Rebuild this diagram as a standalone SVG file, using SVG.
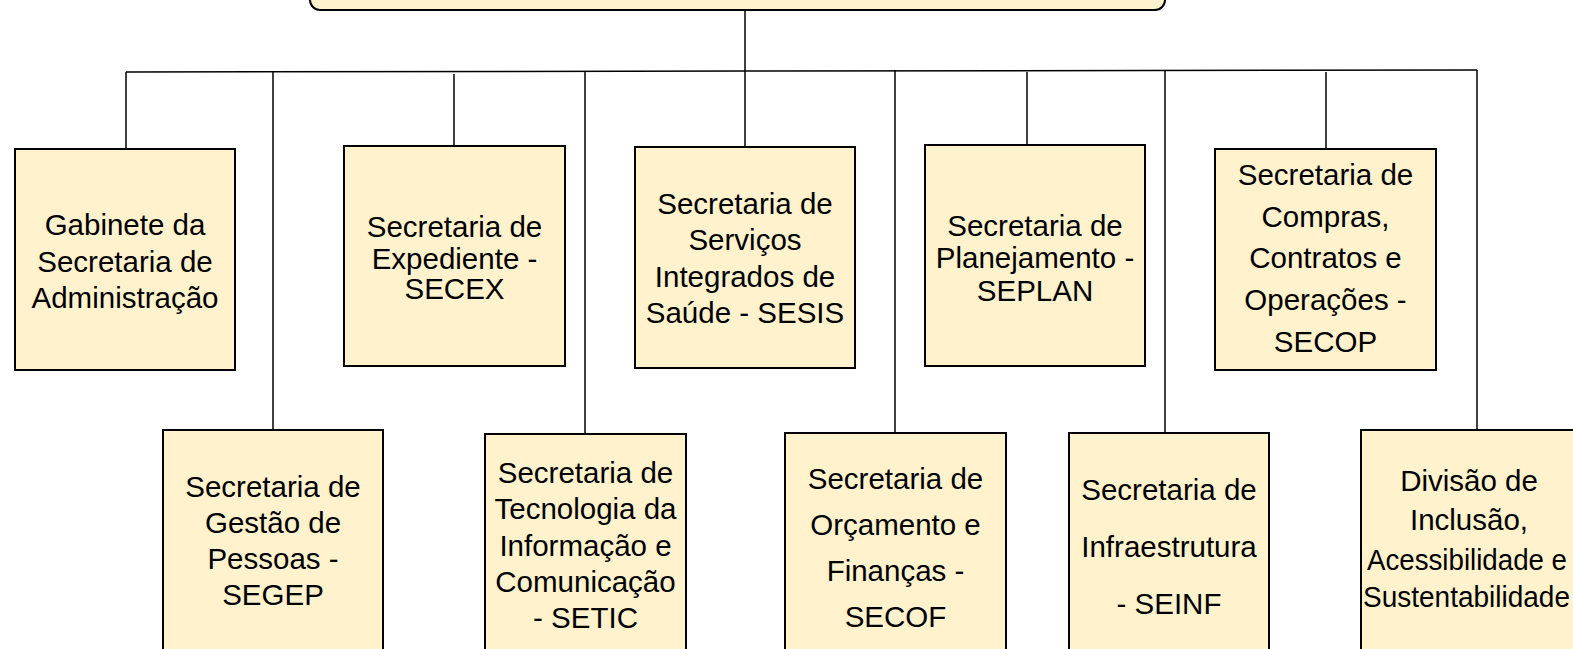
<svg xmlns="http://www.w3.org/2000/svg" width="1573" height="649" viewBox="0 0 1573 649">
<style>
.box{fill:#FFF2CC;stroke:#000;stroke-width:2}
.ln{fill:none;stroke:#000;stroke-width:1.5}
text{font-family:"Liberation Sans",Arial,sans-serif;font-size:29.5px;fill:#000;text-anchor:middle}
</style>
<rect width="1573" height="649" fill="#fff"/>
<g id="connectors">
<path class="ln" d="M745 10V147"/>
<path class="ln" d="M126 72L745 71L1477 70"/>
<path class="ln" d="M126 72V149"/>
<path class="ln" d="M273 71V430"/>
<path class="ln" d="M454 74V146"/>
<path class="ln" d="M585 71V434"/>
<path class="ln" d="M895 70V433"/>
<path class="ln" d="M1027 72V145"/>
<path class="ln" d="M1165 70V433"/>
<path class="ln" d="M1326 72V149"/>
<path class="ln" d="M1477 70V430"/>
</g>
<g id="top">
<rect class="box" x="310" y="-50" width="855" height="60" rx="10"/>
</g>
<g id="gabinete">
<rect class="box" x="15" y="149" width="220" height="221"/>
<text x="125" y="235">Gabinete da</text>
<text x="125" y="271.5">Secretaria de</text>
<text x="125" y="308">Administração</text>
</g>
<g id="secex">
<rect class="box" x="344" y="146" width="221" height="220"/>
<text x="454.5" y="237">Secretaria de</text>
<text x="454.5" y="268.5">Expediente -</text>
<text x="454.5" y="298.5">SECEX</text>
</g>
<g id="sesis">
<rect class="box" x="635" y="147" width="220" height="221"/>
<text x="745" y="214">Secretaria de</text>
<text x="745" y="250">Serviços</text>
<text x="745" y="286.5">Integrados de</text>
<text x="745" y="322.5">Saúde - SESIS</text>
</g>
<g id="seplan">
<rect class="box" x="925" y="145" width="220" height="221"/>
<text x="1035" y="236">Secretaria de</text>
<text x="1035" y="267.5">Planejamento -</text>
<text x="1035" y="300.5">SEPLAN</text>
</g>
<g id="secop">
<rect class="box" x="1215" y="149" width="221" height="221"/>
<text x="1325.5" y="185">Secretaria de</text>
<text x="1325.5" y="226.7">Compras,</text>
<text x="1325.5" y="268.3">Contratos e</text>
<text x="1325.5" y="310">Operações -</text>
<text x="1325.5" y="351.7">SECOP</text>
</g>
<g id="segep">
<rect class="box" x="163" y="430" width="220" height="240"/>
<text x="273" y="497">Secretaria de</text>
<text x="273" y="533">Gestão de</text>
<text x="273" y="569">Pessoas -</text>
<text x="273" y="604.5">SEGEP</text>
</g>
<g id="setic">
<rect class="box" x="485" y="434" width="201" height="240"/>
<text x="585.5" y="482.5">Secretaria de</text>
<text x="585.5" y="519">Tecnologia da</text>
<text x="585.5" y="555.5">Informação e</text>
<text x="585.5" y="591.5">Comunicação</text>
<text x="585.5" y="627.5">- SETIC</text>
</g>
<g id="secof">
<rect class="box" x="785" y="433" width="221" height="240"/>
<text x="895.5" y="489">Secretaria de</text>
<text x="895.5" y="535">Orçamento e</text>
<text x="895.5" y="580.7">Finanças -</text>
<text x="895.5" y="626.7">SECOF</text>
</g>
<g id="seinf">
<rect class="box" x="1069" y="433" width="200" height="240"/>
<text x="1169" y="500">Secretaria de</text>
<text x="1169" y="557">Infraestrutura</text>
<text x="1169" y="614">- SEINF</text>
</g>
<g id="divisao">
<rect class="box" x="1361" y="430" width="220" height="240"/>
<text x="1469" y="490.7">Divisão de</text>
<text x="1469" y="530">Inclusão,</text>
<text x="1467" y="570" textLength="200" lengthAdjust="spacingAndGlyphs">Acessibilidade e</text>
<text x="1466.5" y="606.7" textLength="207" lengthAdjust="spacingAndGlyphs">Sustentabilidade</text>
</g>
</svg>
